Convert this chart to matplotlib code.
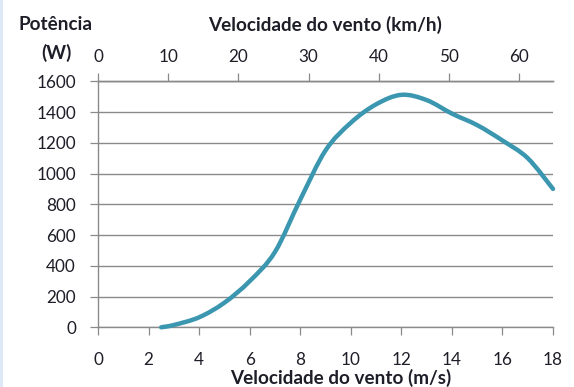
import matplotlib
matplotlib.use("Agg")
import matplotlib.pyplot as plt
from matplotlib.path import Path
from matplotlib.patches import PathPatch, Rectangle
import numpy as np

# Power curve of the turbine: wind speed (m/s) vs output power (W)
wind_ms = [2.5, 3, 4, 5, 6, 7, 8, 9, 10, 11, 12, 13, 14, 15, 16, 17, 18]
power_w = [0, 15, 65, 160, 300, 490, 830, 1150, 1330, 1450, 1512, 1478, 1390, 1315, 1215, 1100, 900]

bottom_ticks = [0, 2, 4, 6, 8, 10, 12, 14, 16, 18]
top_ticks = [0, 10, 20, 30, 40, 50, 60]
y_ticks = [0, 200, 400, 600, 800, 1000, 1200, 1400, 1600]

TEXT = "#1e1e28"
AXIS = "#8a8a8a"
LINE = "#3b96b0"
FONT = ["Lato", "DejaVu Sans"]
TICK_SIZE = 12.3
TITLE_SIZE = 13.6

plt.rcParams["font.family"] = FONT

fig = plt.figure(figsize=(5.74, 3.87), dpi=100)
fig.patch.set_facecolor("white")
fig.patches.append(Rectangle((0, 0), 3 / 574, 1, transform=fig.transFigure,
                             facecolor="#dde9f6", edgecolor="none"))

ax = fig.add_axes([98 / 574, 1 - 327.3 / 387, (553 - 98) / 574, (327.3 - 81.3) / 387])
ax.set_xlim(0, 18)
ax.set_ylim(0, 1600)

# Smoothed line: cubic Bezier segments through the data (Catmull-Rom style)
pts = np.column_stack([wind_ms, power_w]).astype(float)
n = len(pts)
verts = [tuple(pts[0])]
codes = [Path.MOVETO]
for i in range(n - 1):
    p0 = pts[i - 1] if i > 0 else pts[i]
    p1 = pts[i]
    p2 = pts[i + 1]
    p3 = pts[i + 2] if i + 2 < n else pts[i + 1]
    c1 = p1 + (p2 - p0) / 6.0
    c2 = p2 - (p3 - p1) / 6.0
    verts += [tuple(c1), tuple(c2), tuple(p2)]
    codes += [Path.CURVE4] * 3
curve = PathPatch(Path(verts, codes), facecolor="none", edgecolor=LINE,
                  linewidth=3.2, capstyle="round", joinstyle="round",
                  transform=ax.transData, zorder=3, clip_on=False)
ax.add_patch(curve)

# Grid and axes styling
ax.set_yticks(y_ticks)
ax.set_xticks(bottom_ticks)
ax.yaxis.grid(True, color=AXIS, linewidth=1.0)
ax.set_axisbelow(True)
ax.spines["right"].set_visible(False)
for side in ("left", "bottom", "top"):
    ax.spines[side].set_color(AXIS)
    ax.spines[side].set_linewidth(1.0)
ax.tick_params(axis="both", direction="out", length=5.8, width=0.9,
               color=AXIS, labelcolor=TEXT, labelsize=TICK_SIZE)
ax.tick_params(axis="y", pad=10)
ax.tick_params(axis="x", pad=12)

# Secondary axis in km/h
sec = ax.secondary_xaxis("top", functions=(lambda v: v * 3.6, lambda v: v / 3.6))
sec.set_xticks(top_ticks)
sec.spines["top"].set_color(AXIS)
sec.spines["top"].set_linewidth(1.0)
sec.tick_params(axis="x", direction="out", length=5.8, width=0.9,
                color=AXIS, labelcolor=TEXT, labelsize=TICK_SIZE, pad=6)

# Titles
fig.text(55 / 574, 1 - 24 / 387, "Potência", ha="center", va="center",
         fontsize=TITLE_SIZE, fontweight="bold", color=TEXT)
fig.text(56 / 574, 1 - 53 / 387, "(W)", ha="center", va="center",
         fontsize=TITLE_SIZE, fontweight="bold", color=TEXT)
fig.text(325 / 574, 1 - 25 / 387, "Velocidade do vento (km/h)", ha="center",
         va="center", fontsize=TITLE_SIZE, fontweight="bold", color=TEXT)
fig.text(341 / 574, 1 - 378 / 387, "Velocidade do vento (m/s)", ha="center",
         va="center", fontsize=TITLE_SIZE, fontweight="bold", color=TEXT)

fig.savefig("out.png", dpi=100, facecolor=fig.get_facecolor())
